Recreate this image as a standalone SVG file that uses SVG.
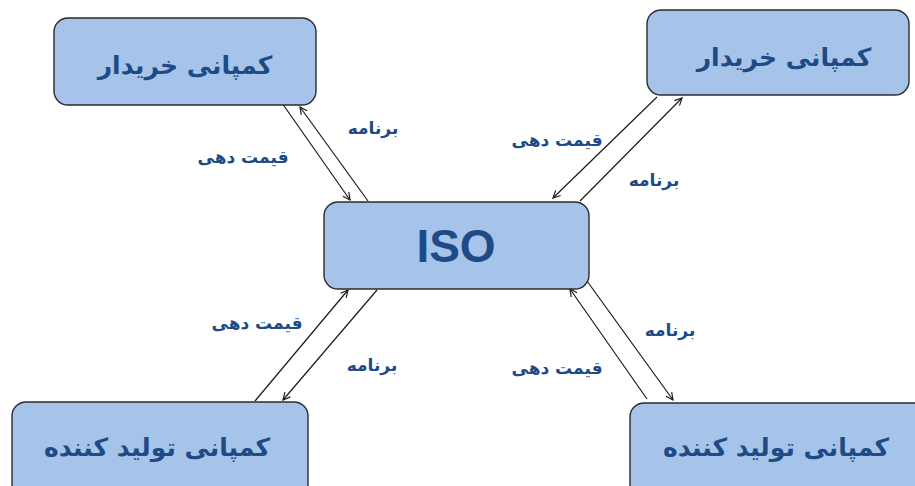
<svg xmlns="http://www.w3.org/2000/svg" width="915" height="486" viewBox="0 0 915 486">
<style>
.box{fill:#a6c4e9;stroke:#2b2b2b;stroke-width:1.4}
.bt{font-family:"DejaVu Sans","Noto Sans",sans-serif;font-weight:bold;font-size:25px;fill:#1e4b86;text-anchor:middle}
.lb{font-family:"DejaVu Sans","Noto Sans",sans-serif;font-weight:bold;font-size:17px;fill:#1e4b86;text-anchor:middle}
.iso{font-family:"Liberation Sans",Arial,sans-serif;font-weight:bold;font-size:46px;fill:#1e4b86;text-anchor:middle}
.ln{stroke:#1a1a1a;stroke-width:1.2;fill:none;marker-end:url(#ah)}
</style>
<defs>
<marker id="ah" viewBox="0 0 10 10" refX="9" refY="5" markerWidth="9" markerHeight="9" orient="auto" markerUnits="userSpaceOnUse">
<path d="M1,1 L9,5 L1,9" fill="none" stroke="#1a1a1a" stroke-width="1.3"/>
</marker>
</defs>
<rect width="915" height="486" fill="#ffffff"/>
<g id="connectors">
<line class="ln" x1="282" y1="103" x2="350" y2="200"/>
<line class="ln" x1="368" y1="201" x2="300" y2="107"/>
<line class="ln" x1="657" y1="97" x2="553" y2="198"/>
<line class="ln" x1="580" y1="201" x2="682" y2="98"/>
<line class="ln" x1="255" y1="401" x2="348" y2="290"/>
<line class="ln" x1="377" y1="290" x2="283" y2="400"/>
<line class="ln" x1="647" y1="399" x2="570" y2="289"/>
<line class="ln" x1="587" y1="281" x2="673" y2="400"/>
</g>
<g id="labels">
<text class="lb" x="373" y="134">برنامه</text>
<text class="lb" x="243" y="163">قیمت دهی</text>
<text class="lb" x="557" y="146">قیمت دهی</text>
<text class="lb" x="654" y="186">برنامه</text>
<text class="lb" x="257" y="329">قیمت دهی</text>
<text class="lb" x="372" y="371">برنامه</text>
<text class="lb" x="670" y="336">برنامه</text>
<text class="lb" x="557" y="374">قیمت دهی</text>
</g>
<g id="buyer1">
<rect class="box" x="54" y="18" width="262" height="87" rx="14"/>
<text class="bt" x="185" y="74">کمپانی خریدار</text>
</g>
<g id="buyer2">
<rect class="box" x="647" y="10" width="262" height="85" rx="14"/>
<text class="bt" x="784" y="66">کمپانی خریدار</text>
</g>
<g id="iso">
<rect class="box" x="324" y="202" width="265" height="87" rx="14"/>
<text class="iso" x="456" y="262">ISO</text>
</g>
<g id="producer1">
<rect class="box" x="12" y="402" width="296" height="100" rx="14"/>
<text class="bt" x="157" y="456">کمپانی تولید کننده</text>
</g>
<g id="producer2">
<rect class="box" x="630" y="403" width="300" height="100" rx="14"/>
<text class="bt" x="776" y="456">کمپانی تولید کننده</text>
</g>
</svg>
